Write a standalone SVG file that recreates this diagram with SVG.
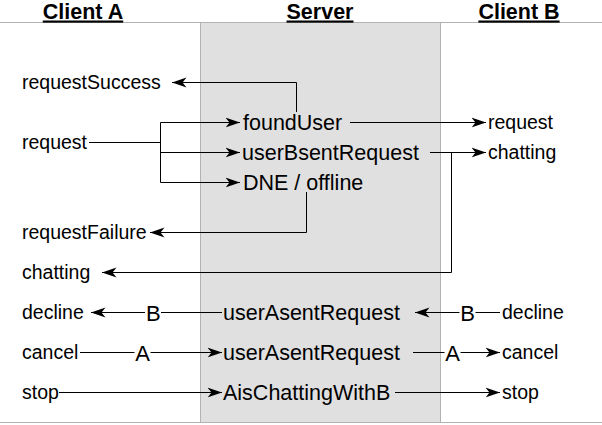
<svg xmlns="http://www.w3.org/2000/svg" width="602" height="425" viewBox="0 0 602 425">
<style>
  .hdr { font-family: "Liberation Sans", Arial, Helvetica, sans-serif; font-weight: bold; font-size: 21.5px; text-anchor: middle; text-decoration: underline; fill: #000; }
  .cl { font-family: "Liberation Sans", Arial, Helvetica, sans-serif; font-size: 19.5px; fill: #000; }
  .sv { font-family: "Liberation Sans", Arial, Helvetica, sans-serif; font-size: 21.5px; fill: #000; }
  .lbl { font-family: "Liberation Sans", Arial, Helvetica, sans-serif; font-size: 22px; text-anchor: middle; fill: #000; }
  .lblbg { fill: #fff; }
  .conn { fill: none; stroke: #000; stroke-width: 1; }
  .arr { marker-end: url(#ah); }
  .rule { stroke: #b3b3b3; stroke-width: 1; fill: none; }
</style>
<defs>
  <marker id="ah" viewBox="0 0 15 11" refX="14.5" refY="5.5" markerWidth="15" markerHeight="11" markerUnits="userSpaceOnUse" orient="auto">
    <path d="M0,0.5 L14.5,5.5 L0,10.5 L4,5.5 Z" fill="#000"/>
  </marker>
</defs>
<rect width="602" height="425" fill="#fff"/>
<g id="server-lane">
  <rect x="200.5" y="22.5" width="240" height="400" fill="#e0e0e0" stroke="#b3b3b3" stroke-width="1"/>
</g>
<g id="rules">
  <line class="rule" x1="0" y1="22.5" x2="602" y2="22.5"/>
  <line class="rule" x1="0" y1="422.5" x2="602" y2="422.5"/>
</g>
<g id="headers">
  <g id="hdr-clientA"><text class="hdr" x="83" y="18.5">Client A</text></g>
  <g id="hdr-server"><text class="hdr" x="320" y="18.5">Server</text></g>
  <g id="hdr-clientB"><text class="hdr" x="519" y="18.5">Client B</text></g>
</g>
<g id="connectors">
  <path class="conn arr" d="M296.5,112 V82.5 H172"/>
  <path class="conn" d="M89,142.5 H160.5 M160.5,122.5 V182.5"/>
  <path class="conn arr" d="M160.5,122.5 H240"/>
  <path class="conn arr" d="M160.5,152.5 H240"/>
  <path class="conn arr" d="M160.5,182.5 H240"/>
  <path class="conn arr" d="M350,122.5 H486"/>
  <path class="conn arr" d="M430,152.5 H486"/>
  <path class="conn arr" d="M451.5,152.5 V272.5 H102"/>
  <path class="conn arr" d="M306.5,192 V232.5 H150"/>
  <g id="c-decline-left">
    <path class="conn arr" d="M222,312.5 H91"/>
    <rect class="lblbg" x="145" y="303" width="16" height="19"/>
    <text class="lbl" x="153.3" y="321">B</text>
  </g>
  <g id="c-decline-right">
    <path class="conn arr" d="M500,312.5 H415"/>
    <rect class="lblbg" x="459.5" y="303" width="16" height="19"/>
    <text class="lbl" x="467.5" y="321">B</text>
  </g>
  <g id="c-cancel-left">
    <path class="conn arr" d="M80,352.5 H222"/>
    <rect class="lblbg" x="134.5" y="343" width="16" height="19"/>
    <text class="lbl" x="142.5" y="361">A</text>
  </g>
  <g id="c-cancel-right">
    <path class="conn arr" d="M413,352.5 H500"/>
    <rect class="lblbg" x="444.5" y="343" width="16" height="19"/>
    <text class="lbl" x="452.5" y="361">A</text>
  </g>
  <path class="conn arr" d="M59,392.5 H222"/>
  <path class="conn arr" d="M395,392.5 H500"/>
</g>
<g id="clientA-nodes">
  <g id="a-requestSuccess"><text class="cl" x="22" y="89">requestSuccess</text></g>
  <g id="a-request"><text class="cl" x="22" y="149">request</text></g>
  <g id="a-requestFailure"><text class="cl" x="22" y="239">requestFailure</text></g>
  <g id="a-chatting"><text class="cl" x="22" y="279">chatting</text></g>
  <g id="a-decline"><text class="cl" x="22" y="319">decline</text></g>
  <g id="a-cancel"><text class="cl" x="22" y="359">cancel</text></g>
  <g id="a-stop"><text class="cl" x="22" y="399">stop</text></g>
</g>
<g id="server-nodes">
  <g id="s-foundUser"><text class="sv" x="243" y="129.5">foundUser</text></g>
  <g id="s-userBsentRequest"><text class="sv" x="242" y="159.5">userBsentRequest</text></g>
  <g id="s-dne-offline"><text class="sv" x="243" y="189.5">DNE / offline</text></g>
  <g id="s-userAsentRequest-decline"><text class="sv" x="223" y="319.5">userAsentRequest</text></g>
  <g id="s-userAsentRequest-cancel"><text class="sv" x="223" y="359.5">userAsentRequest</text></g>
  <g id="s-AisChattingWithB"><text class="sv" x="223" y="399.5">AisChattingWithB</text></g>
</g>
<g id="clientB-nodes">
  <g id="b-request"><text class="cl" x="488" y="129">request</text></g>
  <g id="b-chatting"><text class="cl" x="488" y="159">chatting</text></g>
  <g id="b-decline"><text class="cl" x="502" y="319">decline</text></g>
  <g id="b-cancel"><text class="cl" x="502" y="359">cancel</text></g>
  <g id="b-stop"><text class="cl" x="502" y="399">stop</text></g>
</g>
</svg>
